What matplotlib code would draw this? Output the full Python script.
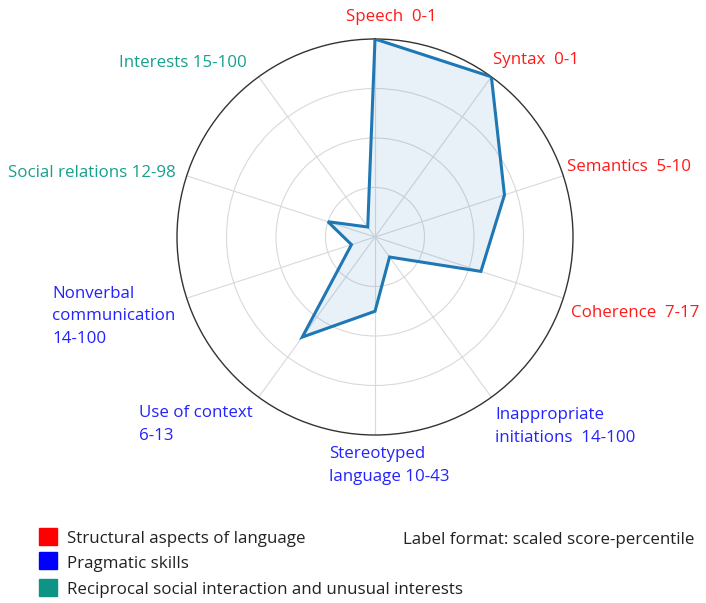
import numpy as np
import matplotlib
matplotlib.use("Agg")
import matplotlib.pyplot as plt

plt.rcParams['font.family'] = ['Open Sans', 'DejaVu Sans']

# radar axes, clockwise from the top
labels = ["Speech  0-1", "Syntax  0-1", "Semantics  5-10", "Coherence  7-17",
          "Inappropriate\ninitiations  14-100", "Stereotyped\nlanguage 10-43",
          "Use of context\n6-13", "Nonverbal\ncommunication\n14-100",
          "Social relations 12-98", "Interests 15-100"]
groups = ["structural", "structural", "structural", "structural",
          "pragmatic", "pragmatic", "pragmatic", "pragmatic",
          "social", "social"]
# radial value = 16 - scaled score
values = [16, 16, 11, 9, 2, 6, 10, 2, 4, 1]

group_names = ["Structural aspects of language", "Pragmatic skills",
               "Reciprocal social interaction and unusual interests"]
text_colors = {"structural": "#ff1a1a", "pragmatic": "#2323ff", "social": "#17a08c"}
box_colors = ["#ff0000", "#0000ff", "#0e9484"]

W, H = 706, 603
fig = plt.figure(figsize=(W / 100, H / 100), dpi=100)

cx, cy, R = 375, 237, 198
ax = fig.add_axes([(cx - R) / W, (H - cy - R) / H, 2 * R / W, 2 * R / H],
                  projection='polar')
ax.set_theta_zero_location('N')
ax.set_theta_direction(-1)

n = len(values)
angles = np.arange(n) * 2 * np.pi / n
ax.set_ylim(0, 16)
ax.set_yticks([4, 8, 12])
ax.set_yticklabels([])
ax.set_xticks(angles)
ax.set_xticklabels([])
ax.grid(color='#d9d9d9', lw=0.8)
ax.spines['polar'].set_color('#333333')
ax.spines['polar'].set_linewidth(1.0)

th = np.append(angles, angles[0])
rv = np.append(values, values[0])
ax.fill(th, rv, color='#1f77b4', alpha=0.1, zorder=2)
ax.plot(th, rv, color='#1f77b4', lw=2.2, solid_joinstyle='miter', zorder=3)

fs = 12.2
# label anchors (left x, last-line baseline y) in pixels
label_pos = [(346, 21), (493, 64), (567, 171), (571, 317), (495, 442),
             (329, 481), (139, 440), (52, 343), (8, 177), (119, 67)]
for lab, g, (x, y) in zip(labels, groups, label_pos):
    fig.text(x / W, 1 - y / H, lab, color=text_colors[g], fontsize=fs,
             ha='left', va='baseline', linespacing=1.55)

# legend
for i, (name, c) in enumerate(zip(group_names, box_colors)):
    top = [528, 552, 579][i]
    fig.patches.append(plt.Rectangle((39 / W, 1 - (top + 17) / H), 18 / W, 17 / H,
                                     transform=fig.transFigure, color=c))
    fig.text(67 / W, 1 - [543, 568, 594][i] / H, name, color='#222222',
             fontsize=fs, ha='left', va='baseline')

fig.text(403 / W, 1 - 544 / H, "Label format: scaled score-percentile",
         color='#222222', fontsize=fs, ha='left', va='baseline')

fig.savefig("out.png", dpi=100)
